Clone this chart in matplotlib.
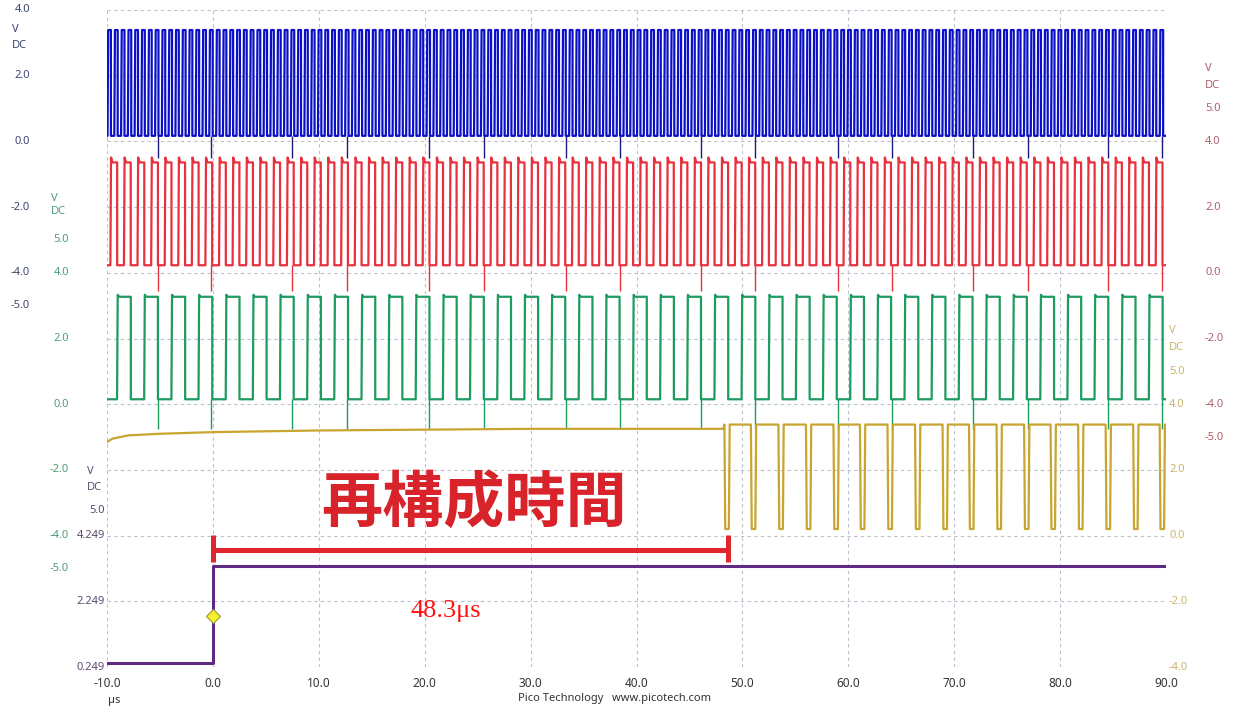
import matplotlib.pyplot as plt
from matplotlib import transforms

# eje de tiempo (µs)
t_start, t_end = -10.0, 90.0
x_ticks = [-10, 0, 10, 20, 30, 40, 50, 60, 70, 80, 90]

# canal A (azul): flancos de subida
blue_rise = [-9.95, -9.31, -8.67, -8.03, -7.39, -6.75, -6.10, -5.46, -4.82, -4.18,
             -3.54, -2.90, -2.26, -1.62, -0.98, -0.34, 0.31, 0.95, 1.59, 2.23,
             2.87, 3.51, 4.15, 4.79, 5.43, 6.08, 6.72, 7.36, 8.00, 8.64,
             9.28, 9.92, 10.56, 11.20, 11.84, 12.49, 13.13, 13.77, 14.41, 15.05,
             15.69, 16.33, 16.97, 17.61, 18.25, 18.90, 19.54, 20.18, 20.82, 21.46,
             22.10, 22.74, 23.38, 24.02, 24.66, 25.31, 25.95, 26.59, 27.23, 27.87,
             28.51, 29.15, 29.79, 30.43, 31.07, 31.72, 32.36, 33.00, 33.64, 34.28,
             34.92, 35.56, 36.20, 36.84, 37.48, 38.13, 38.77, 39.41, 40.05, 40.69,
             41.33, 41.97, 42.61, 43.25, 43.89, 44.54, 45.18, 45.82, 46.46, 47.10,
             47.74, 48.38, 49.02, 49.66, 50.30, 50.95, 51.59, 52.23, 52.87, 53.51,
             54.15, 54.79, 55.43, 56.07, 56.71, 57.36, 58.00, 58.64, 59.28, 59.92,
             60.56, 61.20, 61.84, 62.48, 63.12, 63.77, 64.41, 65.05, 65.69, 66.33,
             66.97, 67.61, 68.25, 68.89, 69.53, 70.18, 70.82, 71.46, 72.10, 72.74,
             73.38, 74.02, 74.66, 75.30, 75.94, 76.59, 77.23, 77.87, 78.51, 79.15,
             79.79, 80.43, 81.07, 81.71, 82.35, 83.00, 83.64, 84.28, 84.92, 85.56,
             86.20, 86.84, 87.48, 88.12, 88.76, 89.41]
blue_width = 0.32
blue_low, blue_high = 0.17, 3.39

# canal B (rojo)
red_rise = [-9.68, -8.40, -7.12, -5.83, -4.55, -3.27, -1.99, -0.71, 0.58, 1.86,
            3.14, 4.42, 5.70, 6.99, 8.27, 9.55, 10.83, 12.11, 13.40, 14.68,
            15.96, 17.24, 18.52, 19.81, 21.09, 22.37, 23.65, 24.93, 26.22, 27.50,
            28.78, 30.06, 31.34, 32.63, 33.91, 35.19, 36.47, 37.75, 39.04, 40.32,
            41.60, 42.88, 44.16, 45.45, 46.73, 48.01, 49.29, 50.57, 51.86, 53.14,
            54.42, 55.70, 56.98, 58.27, 59.55, 60.83, 62.11, 63.39, 64.68, 65.96,
            67.24, 68.52, 69.80, 71.09, 72.37, 73.65, 74.93, 76.21, 77.50, 78.78,
            80.06, 81.34, 82.62, 83.91, 85.19, 86.47, 87.75, 89.03]
red_width = 0.64
red_low, red_high = 0.23, 3.36

# canal C (verde)
green_rise = [-9.05, -6.49, -3.92, -1.36, 1.21, 3.77, 6.33, 8.90, 11.46, 14.03,
              16.59, 19.15, 21.72, 24.28, 26.85, 29.41, 31.97, 34.54, 37.10, 39.67,
              42.23, 44.79, 47.36, 49.92, 52.49, 55.05, 57.61, 60.18, 62.74, 65.31,
              67.87, 70.43, 73.00, 75.56, 78.13, 80.69, 83.25, 85.82, 88.38]
green_width = 1.30
green_low, green_high = 0.15, 3.27

# picos de ruido comunes a A, B y C
glitch_t = [-5.2, -0.2, 7.5, 12.7, 20.4, 25.6, 33.3, 38.4, 46.1, 51.2,
            59.0, 64.1, 71.8, 77.0, 84.5, 89.6]
blue_glitch, red_glitch, green_glitch = -0.5, -0.55, -0.75

# canal D (amarillo): nivel alto antes del primer pulso y caídas después
yellow_base_t = [-10.0, -9.5, -8.0, -5.0, 0.0, 10.0, 30.0, 48.2]
yellow_base_v = [2.85, 2.95, 3.05, 3.10, 3.15, 3.20, 3.25, 3.25]
yellow_dips = [48.3, 50.8, 53.4, 56.0, 58.6, 61.1, 63.7, 66.3, 68.9, 71.4,
               74.0, 76.6, 79.1, 81.7, 84.3, 86.9, 89.4]
yellow_dip_width = 0.5
yellow_low, yellow_high = 0.2, 3.38

# canal E (morado): escalón de disparo
purple_step = 0.0
purple_low, purple_high = 0.37, 3.31
trigger_level = 1.79

# anotación
bracket_start, bracket_end = 0.0, 48.6
measured = '48.3μs'
title_jp = '再構成時間'

# rótulos de los ejes verticales
blue_ticks = ['4.0', '2.0', '0.0', '-2.0', '-4.0', '-5.0']
red_ticks = ['5.0', '4.0', '2.0', '0.0', '-2.0', '-4.0', '-5.0']
green_ticks = ['5.0', '4.0', '2.0', '0.0', '-2.0', '-4.0', '-5.0']
yellow_ticks = ['5.0', '4.0', '2.0', '0.0', '-2.0', '-4.0']
purple_ticks = ['5.0', '4.249', '2.249', '0.249']

W, H = 1236, 709
fig = plt.figure(figsize=(W / 100, H / 100), dpi=100)
fig.patch.set_facecolor('white')
rect = [107 / W, (H - 667) / H, (1166 - 107) / W, (667 - 10) / H]

# cuadrícula principal
ax = fig.add_axes(rect)
ax.set_xlim(t_start, t_end)
ax.set_ylim(0, 10)
ax.set_xticks(x_ticks)
ax.set_xticklabels([f'{x:.1f}' for x in x_ticks])
ax.set_yticks(range(11))
ax.set_yticklabels([])
ax.grid(True, color='#b9c3cf', linestyle=(0, (3, 3)), linewidth=0.8)
for s in ax.spines.values():
    s.set_visible(False)
ax.tick_params(axis='both', length=0)
ax.tick_params(axis='x', pad=7, labelsize=8.5, labelcolor='#333333')
for lab in ax.get_xticklabels():
    lab.set_fontfamily('Noto Sans')


def channel_axes(ylim):
    a = fig.add_axes(rect, sharex=ax)
    a.set_ylim(*ylim)
    a.axis('off')
    a.patch.set_alpha(0)
    return a


def pulses(rises, width, lo, hi, over=0.0):
    t = [t_start]
    v = [lo]
    for r in rises:
        t += [r, r + 0.06, r + 0.2, r + width, r + width]
        v += [lo, hi + over, hi, hi, lo]
    t.append(t_end)
    v.append(lo)
    return t, v


ax_blue = channel_axes((-16, 4))
ax_red = channel_axes((-12, 8))
ax_green = channel_axes((-8, 12))
ax_yellow = channel_axes((-4, 16))
ax_purple = channel_axes((0.249, 20.249))

c_blue, c_red, c_green, c_yellow, c_purple = '#0b10c6', '#e8313f', '#1e9b5e', '#c8a52e', '#5e2a82'

t, v = pulses(blue_rise, blue_width, blue_low, blue_high)
ax_blue.plot(t, v, color=c_blue, lw=1.6)
ax_blue.vlines(glitch_t, blue_glitch, blue_low, color='#1a1a80', lw=1.0)
t, v = pulses(red_rise, red_width, red_low, red_high, over=0.15)
ax_red.plot(t, v, color=c_red, lw=1.6)
ax_red.vlines(glitch_t, red_glitch, red_low, color=c_red, lw=1.0)
t, v = pulses(green_rise, green_width, green_low, green_high, over=0.06)
ax_green.plot(t, v, color=c_green, lw=1.6)
ax_green.vlines(glitch_t, green_glitch, green_low, color=c_green, lw=1.0)

# amarillo
yt = list(yellow_base_t)
yv = list(yellow_base_v)
for d in yellow_dips:
    yt += [d, d + 0.08, d + yellow_dip_width - 0.08, d + yellow_dip_width]
    yv += [yellow_high, yellow_low, yellow_low, yellow_high]
yt.append(t_end)
yv.append(yellow_high)
ax_yellow.plot(yt, yv, color=c_yellow, lw=1.6)

# morado
ax_purple.plot([t_start, purple_step, purple_step, t_end],
               [purple_low, purple_low, purple_high, purple_high], color=c_purple, lw=2.2)
ax_purple.plot(purple_step, trigger_level, marker='D', ms=7, mfc='#f4f030', mec='#9c9a30', mew=0.8)

# corchete rojo y textos
red_mark = '#e1252f'
ax_purple.plot([bracket_start, bracket_end], [3.82, 3.82], color=red_mark, lw=3.6, solid_capstyle='butt')
ax_purple.plot([bracket_start, bracket_start], [3.44, 4.28], color=red_mark, lw=3.6, solid_capstyle='butt')
ax_purple.plot([bracket_end, bracket_end], [3.44, 4.28], color=red_mark, lw=3.6, solid_capstyle='butt')
ax_purple.text(24.7, 5.2, title_jp, color='#d8232a', fontsize=44, fontweight='bold',
               family=['Noto Sans CJK JP'], ha='center', va='center')
ax_purple.text(18.7, 1.94, measured, color='#ff1010', fontsize=19,
               family=['Liberation Serif', 'DejaVu Serif'], ha='left', va='center')


# rótulos de canal
def axis_labels(a, labels, x_px, color, ha, vdc_offsets):
    tr = transforms.blended_transform_factory(fig.transFigure, a.transData)
    for lab in labels:
        a.text(x_px / W, float(lab), lab, transform=tr, color=color, fontsize=8,
               ha=ha, va='center', family='Noto Sans')
    top = float(labels[0])
    vx = x_px / W if ha == 'left' else (x_px - 18) / W
    for txt, off in zip(['V', 'DC'], vdc_offsets):
        a.annotate(txt, xy=(vx, top), xycoords=tr, xytext=(0, off), textcoords='offset pixels',
                   color=color, fontsize=8, ha='left', va='center', family='Noto Sans')


axis_labels(ax_blue, blue_ticks, 30, '#3f4671', 'right', [-20, -35])
axis_labels(ax_green, green_ticks, 69, '#4f9c76', 'right', [41, 28])
axis_labels(ax_purple, purple_ticks, 105, '#5d4a72', 'right', [39, 23])
axis_labels(ax_red, red_ticks, 1205, '#b0606c', 'left', [40, 23])
axis_labels(ax_yellow, yellow_ticks, 1169, '#c9b46a', 'left', [41, 24])

fig.text(108 / W, 1 - 700 / H, 'µs', fontsize=8, color='#333333', family='Noto Sans', va='center')
fig.text(518 / W, 1 - 698 / H, 'Pico Technology   www.picotech.com', fontsize=8,
         color='#333333', family='Noto Sans', va='center')

fig.savefig('out.png', dpi=100)
